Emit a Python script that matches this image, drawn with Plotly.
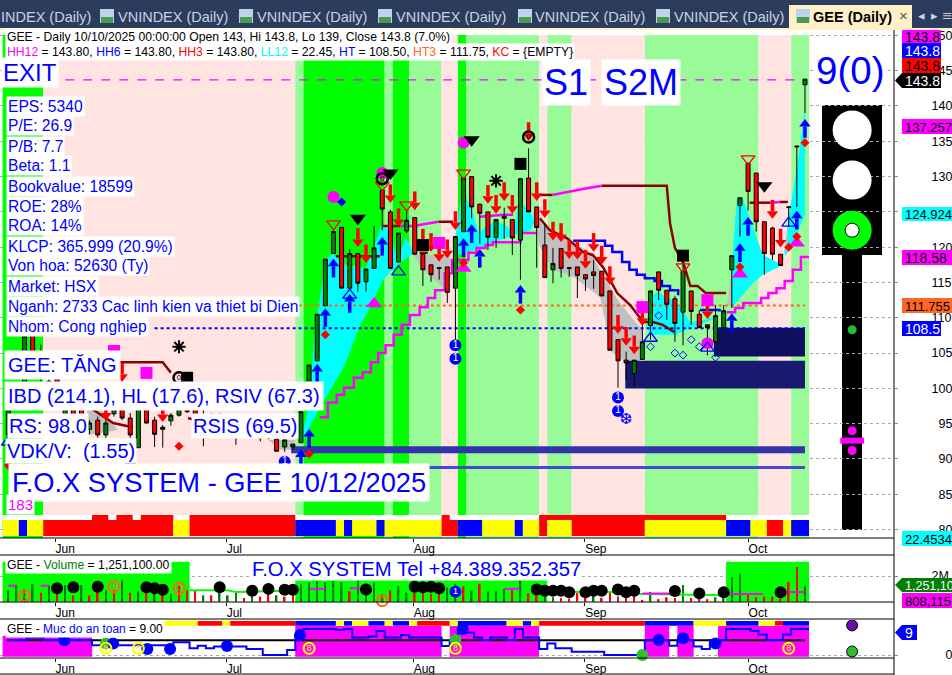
import plotly.graph_objects as go

W, H = 952, 675
FONT = "Liberation Sans"
PINK, LIGHT, LIME = "#FFE4E1", "#98FB98", "#00FF00"
RED, YEL, BLU, MAG, GRN = "#FF0000", "#FFFF00", "#0000FF", "#FF00FF", "#008000"

# ---------------- data ----------------
bar_index = list(range(2, 101))
opens = [93.4,99.5,99,107.6,104,99,102,96,98,97,94.2,95.5,93.4,96.4,99,95.8,91.6,98.4,95.5,94.2,95.4,96.2,99,98,96,94,96,94.5,95,93.5,94.8,93,94.1,92.8,91.7,91.7,92.3,97,103.9,111.7,119.1,122.8,114.2,119.1,115.1,117,128.1,125,117.9,122.3,124.2,119,117.5,117.1,117.2,114.2,122.2,130,126.1,125,121.4,124.4,123.9,121,129.8,125.7,120.3,116.8,119.8,117.1,117.2,116.1,116.5,116.6,113.8,106.9,104,102.1,104.1,108.9,116.5,113.9,112.7,110.8,113.8,110.5,109,106.6,108.6,116.8,125.9,131.9,130.5,123.6,122.7,119,125.6,134.2,143]
highs = [99.5,100,107.6,108,106.2,102,103,100,99,98,95.5,96,95.5,99.5,100,96.5,98.8,99,96,94.8,96.5,98,99.2,98.5,97,96.5,96.5,96,96,95,95.2,94.5,94.5,92.8,92.7,92.1,96.7,103.3,110.5,118.3,122.2,122.8,119.7,119.1,116.9,123,128.1,125.3,122,125.3,124.2,119,117.5,117.2,117.2,121.5,129.8,130,126.1,125,123.9,125.6,123.9,129.7,134,125.7,123.4,119.9,119.8,117.2,117.2,116.1,118.2,116.6,113.8,106.9,105.2,104,109,113.8,116.5,113.9,113.1,117.9,113.8,111.1,109,111.8,111.8,118.8,127,131.9,130.5,123.6,122.9,119,125.7,134.3,143.8]
lows = [93,97,98.5,102,101,98,98,95,95,94.5,93.5,93,93,96,95.5,93,91.6,95,91.7,91.6,94.7,96,96.5,95,91.8,93,94,94,92,93,93.2,92.5,92.8,91.1,91,91.3,92.3,97,103.9,111.7,119.1,114.2,114.2,113.7,113.7,117,122.4,117,117.9,122,119,114.5,115.1,115.4,112.1,106.9,122.2,124.1,120.5,119.6,119.9,121.2,118.9,115.4,125,117.1,115.7,114.9,115.7,115.8,112.8,113.8,114.1,113.1,105.4,100.1,101.2,100.2,104.1,106.9,112.5,109.7,106.6,106.1,109,108.6,104.7,106.6,108.6,111.4,121.5,125.2,122.2,116.1,118.2,117.4,123,125.7,139]
closes = [99,97.5,107.4,102.6,101.5,101,99,98,96,95.5,95.1,93.4,95.1,99,95.8,93.4,98.4,95.1,93.5,94.5,96.2,97.5,96.7,95.5,94.5,96,94.5,95.5,94,94.5,93.4,94,93,91.1,92.7,92.1,96.7,103.3,110.5,118.3,122.2,114.2,119.1,114.9,116.9,119.9,125.4,117,122,123.8,119,116.8,116.1,117,113.6,121.5,129.8,125.7,124.8,121.4,123.9,124.1,121.3,129.7,125,122.8,115.7,117.7,117,117,116,115.5,116,113.1,105.4,103.9,103.6,104,106.6,113.8,113.9,111.9,109.2,116.6,110.9,108.6,108.6,110.3,111,118.8,127,127.9,123.6,119.1,119,117.4,125.7,134.3,143.8]

volumes = [.9,1.3,1.0,1.4,.7,1.3,.9,1.3,.5,1.3,.5,1.5,.9,.9,1.7,.7,.8,.8,.6,.5,.6,1.3,.9,.9,.5,.5,.7,.5,.7,.3,.5,.4,.6,.5,.4,.5,1.4,1.5,1.6,1.5,1.6,1.5,.8,1.7,1.2,1.5,.6,.9,1.2,.7,.7,.8,.6,1.0,1.1,1.4,1.2,.9,1.4,.8,.8,1.0,.9,1.7,.65,.5,.4,.35,.3,.25,.7,.4,.5,.3,.75,.4,.8,.6,.15,.75,.2,.35,.3,1.3,.3,.4,.2,.35,.6,1.9,2.2,.65,.35,.4,.4,.25,1.55,2.7,1.25]
vol_is_up = [1,1,1,1,0,1,0,1,0,1,0,0,1,0,1,0,1,0,1,0,1,0,0,0,1,0,1,1,1,0,1,0,0,1,0,0,1,1,1,1,1,1,0,1,1,1,1,0,1,1,0,0,0,0,1,1,0,1,0,1,1,1,0,1,0,0,1,1,0,0,0,0,1,0,0,0,0,0,0,1,0,0,0,1,0,0,0,1,1,1,1,0,0,0,0,0,0,0,1]

band_edges = [1.3,6.3,37.3,38.3,48.3,49.3,51.3,55.3,57.3,58.3,67.3,68.3,71.3,80.3,94.3,98.3,100.5]
band_colors = [LIME,PINK,LIGHT,LIME,LIGHT,LIME,LIGHT,PINK,LIME,LIGHT,PINK,LIGHT,PINK,LIGHT,PINK,LIGHT]
strip_edges = [1.3,3.3,4.3,6.3,22.3,24.3,37.3,42.3,43.3,44.3,47.3,48.3,55.3,57.3,60.3,64.3,65.3,67.3,68.3,71.3,80.3,90.3,93.3,95.3,97.3,98.3,100.5]
strip_colors = [YEL,BLU,YEL,RED,YEL,RED,BLU,YEL,BLU,YEL,BLU,YEL,RED,BLU,YEL,BLU,YEL,RED,YEL,RED,YEL,BLU,YEL,RED,YEL,BLU]
upper_red_runs = [(12.3,14.3),(15.3,17.3),(18.3,22.3),(24.3,37.3),(55.3,56.3),(67.3,90.3)]
safety_edges = [20.9,25.3,28.3,29.3,37.3,42.3,43.3,44.3,46.3,48.3,49.3,51.3,52.3,56.3,57.3,63.3,65.3,66.3,67.3,80.3,86.3,90.3,94.3,96.3,97.3,100.5]
safety_colors = [YEL,RED,YEL,RED,BLU,YEL,BLU,YEL,BLU,YEL,BLU,YEL,RED,YEL,BLU,YEL,BLU,YEL,RED,BLU,YEL,BLU,YEL,RED,BLU]
vol_band_edges = [1.3,24.3,37.3,68.3,90.3,100.5]
vol_band_tops = [3.1,0,1.7,0,3.1]
safety_magenta = [(1.3,12.3,6.6),(37.3,55.3,10),(56.3,67.3,10),(80.3,83.3,10),(84.3,86.3,10),(89.3,100.5,10)]

cyan_polys = [
 ([37.9,39,39.6,40.6,41,41.9,42.9,43.9,44.9,45.9,46.9,48,49,49.9,50.9,51.9,49.9,48.1,46.2,45.3,43.4,40.3,38.1],
  [92.3,97.6,106.9,114.9,118.2,119.2,117.9,117.2,117.5,116.8,120,123.4,122,118.2,121.4,119.2,117.5,115.4,110.8,109,103.3,97.2,92.4]),
 ([57,57.9,58.9,59.9,60.9,61.9,63.1,64.2,64.8,66.3,66.8,66.2,64.2,61.3,58.8,57.3],
  [121.6,128.1,125.6,122,123.1,123.6,123.1,122.2,126.7,124.8,123.6,122.4,121.7,120.6,119.3,118.9]),
 ([80.4,81.2,82,83,84,85.9,87.7,89.1,89.1,87.1,84,80.9],
  [109,113.2,113.7,112.8,112.5,109.4,109.7,110.3,110,109.1,107.6,107.6]),
 ([90.8,91.1,91.6,92.3,93,93.9,94.8,96.7,97.5,97.9,99,99.9,100,100,98.5,96.8,94.8,93.6,91],
  [111.7,118.8,126.7,127,124.8,122,118.9,117.8,118.6,123.9,130.9,139,139,124.6,120.6,117.2,116.1,114.9,111.5]),
]
gray_polys = [
 ([51.9,56.3,56.7,56,54.9,53],[118.9,118.9,117.5,113.5,114.9,116.8]),
 ([66.5,67,68.6,71.1,73.6,74.8,77,79.1,80.1,79.7,78.5,77.5,76,75.4,74.8,71.5,69,67.4],
  [125.3,124.3,122.7,121,119.2,116.8,112.5,109.4,108.3,104,103.3,104,105.4,109.7,112.9,115.8,116.8,120]),
 ([90.4,91,91],[111.8,116.8,111.7]),
 ([97.3,97.9,97.8],[118.5,123.1,120.3]),
 ([11.7,13.3,15.5,11.7],[97.2,97.2,94.1,93.4]),
 ([34,37.3,37.3,35.4],[92.7,92.7,91.3,91.3]),
]
zones = [
 (36.8,100,90.8,91.8,"#3333AA"),
 (36.8,100,88.6,89,"#4848D0"),
 (77.9,100,100,103.9,"#191970"),
 (88.8,100,104.5,108.6,"#0F0F60"),
]
darkred_x = [42.3,47.7,None,48.1,50.2,None,54.9,56.7,None,52.6,53.6,None,66.8,68.9,None,75,83,83.4,84,85,85.9,86.8,87.8,90.3,None,93.2,95.7,None,96.9,97.9,None,
             67.4,68.6,70.7,72.7,73.9,75.2,76.9,78.5,79.7,80.1,81.3,82.5,83.9,None,12.4,14.9,17.3,None,15.4,21,22,None,24.1,25]
darkred_y = [118.7,118.7,None,123,123,None,123.6,123.6,None,119.2,119.2,None,127.4,127.4,None,128.7,128.7,123.4,119.9,117.9,114.5,114.5,113.5,113.5,None,126.3,126.3,None,126.4,126.4,None,
             124.1,122.4,121.3,119.3,118.9,117.1,113.5,111.8,110,109.4,109.4,109,108,None,97,95.1,94.5,None,103.7,103.7,102.2,None,95.8,95.5]
mag_seg_x = [50.2,51.8,54.9,None,60,62.9,64.1,None,68.9,71,73,75,None,95.7,96.9]
mag_seg_y = [123,123,123.6,None,124.3,124.6,124.6,None,127.4,127.9,128.3,128.7,None,126.3,126.4]
bluestep_x = [71.5,74.4,75.4,76.3,77.5,78.4,79.3,80.3,81.5,82.4,83.4,84.4,None,87.1,89.5]
bluestep_y = [120.9,120.9,120.2,119.3,117.9,116.8,116.1,115.6,115.2,114.5,113.9,113.2,None,111.1,110.9]
ll_x = [40.3,41.3,42.4,43.3,44.5,45.6,46.6,47.5,48.4,49.4,50.4,51.4,52.6,53.6,54.5,55.7,56.6,58.6,59.6,60.7,61.6,65,67,None,
        90.4,91.4,92.4,94.6,95.5,96.5,97.5,98.5,99.5,100.5]
ll_y = [95.9,98,99.1,100.1,101.5,102.3,103.7,105,106.1,107.6,109,110.4,111.5,112.8,113.9,116.3,118.2,119.2,119.9,120.3,120.7,122,122,None,
        110.8,111.4,112.1,112.8,113.5,114.2,115.2,116.8,118.6,118.6]
HH, HT3, HT = 143.7, 111.755, 108.5

up_x = [41,42,44,48,58,59,60,65,40,39,38,100,99,93,92,91]
up_y = [110.1,117.1,112.1,120.2,120,122,118.5,113.4,102.2,93,90.1,136.9,123.9,123,119.3,109.4]
dn_x = [45,46,49,50,52,53,54,55,56,57,61,62,63,64,66,67,68,69,70,71,72,73,74,75,76,77,78,79,80,88,96,97,16,14,21]
dn_y = [121.3,119,127.5,124.1,126.5,121.2,120.6,119.2,119.7,123.7,127.4,126,127.8,126,136.3,127.8,125.4,122.2,122,119.6,119.5,118.2,120.6,118.8,115.9,109,107.3,106.1,110.1,111.1,125.3,121.2,102.2,96.7,96.5]
tri_red_x, tri_red_y = [42,48,51,58,93,85], [123.3,128.8,126,130.5,132.5,117.2]
tri_blk_x, tri_blk_y = [45,49,59,95], [124.1,130.5,135.2,128.7]
tri_blu_x, tri_blu_y = [44,50,98,81,88,2], [113.2,116.5,123.4,107.1,105.7,92.4]
tri_mag_x, tri_mag_y = [47,58,92,99], [112,117,116.2,120.6]
sq_mag_x, sq_mag_y = [55,80,88,19,15], [120.6,111.5,112.5,102.2,105.3]
sq_blk_x, sq_blk_y = [65,85,53,24], [131.8,118.8,120.3,101.5]
circ_mag_x, circ_mag_y = [42,48,58,88], [127.1,130.5,134.8,106.4]
dia_red_x = [65,58,92,98,99,100,41,23,39,2]
dia_red_y = [111.1,117.8,117.2,120,121.5,134.8,107.6,91.8,90.7,89.1]
dia_hollow_x = [84,85,86,87,89,81,82]
dia_hollow_y = [105,104.7,106.9,105.9,104.4,105.9,110.3]
star_x, star_y = [62,23], [129.4,105.9]
ring_x, ring_y = [48,66,23], [129.7,135.6,101.5]
one_x, one_y = [57,57,77,77,36,17], [106.1,104.2,98.7,96.8,89.6,89.1]
flake_x, flake_y = [13,78], [85,95.5]
zero_vol_x, zero_vol_y = [4,15,23,48,66], [.47,1.17,1.04,.08,-.15]
one_vol_x, one_vol_y = [13,17,36,57,77], [-.2,-.08,-.5,.78,-.5]
dot_vol_x = [8,10,13,19,20,21,28,32,34,36,37,46,52,53,54,55,67,68,69,70,71,73,74,75,77,78,79,84,87,90,97]
dot_vol_y = [1.04,1.12,1.17,1.12,1.04,.94,1.12,.86,1,.94,.94,.96,1.17,1.12,1.17,1.04,.96,.86,.86,.86,.73,.73,.86,.86,.96,.73,.86,.84,.65,.73,.73]
ma_lime_x, ma_lime_y = [24.3,29,30,36,37.3,None,68.3,75,80,85,90.3], [.9,.9,.75,.85,.7,None,.75,.8,.6,.55,.5]
ma_mag_x = [2,3,None,6,7,None,39,41,None,44,45.7,None,63,65,None,80,84,None,90.6,94.8,None,98,100]
ma_mag_y = [1.25,1.25,None,1.25,1.25,None,1,1,None,1.05,1.05,None,1,1,None,.65,.65,None,.6,.6,None,.75,.75]

saf_x = [1.8,4.3,6.3,12.3,22.3,24.3,25.3,26.3,27.3,31.3,33.3,36.3,37.3,38.3,42.3,43.3,44.3,46.3,47.3,48.3,50.3,51.3,55.3,56.3,57.3,58.3,59.3,60.3,61.3,63.3,64.3,65.3,67.3,68.3,69.3,71.3,75.3,80.3,83.3,84.3,86.3,87.3,88.3,90.3,93.3,94.3,95.3,97.3,98.3,100.5]
saf_y = [5.2,6,5.2,3.4,4.4,2.3,3.2,2.3,2.9,2.1,0,1.7,6.9,9,8.6,9,6,6.4,8.3,6,6.9,6,3.1,5.2,9,7.8,6,5.2,6,5.2,9,6,2.1,4,2.3,1.1,0,5.2,3.2,5.2,2.9,2.1,5.2,9,8.3,7.1,5.2,7.1,9,9]
SAFE_LEVEL = 5.1
saf_dot_x, saf_dot_y = [8.9,14.9,19.1,21.9,28.9,37.9,57.9,82,85,89], [5.1,4,2.1,2.1,3.1,6.9,9,5.2,5.8,4]
saf_grn_x, saf_grn_y = [14,57,80], [4,5.2,0]
saf_8_x, saf_8_y = [14,18,39,57,98], [2.3,2.3,2.3,2.3,2.3]
zero_x, one_x3 = [4,15,23,48,66], [13,17,36,57,77]
ROW3 = -3.4

month_ticks = [7.75,28.8,51.8,72.9,93]
month_names = ["Jun","Jul","Aug","Sep","Oct"]
price_ticks = [80,85,90,95,100,105,110,115,120,125,130,135,140,145,150]
price_labels = ["\u2007%d" % p if p < 100 else "%d" % p for p in price_ticks]
LIGHT_X = 105.8
lamp_y = [136.6,129.5]
ring_y_lamp = 122.4
small_green_y = [108.3]
small_mag_y = [94,91.2]

# ---------------- helpers ----------------
def px(x): return x / W
def py(y): return 1 - y / H

def runs_to_bars(edges):
    mids = [(a + b) / 2 for a, b in zip(edges, edges[1:])]
    widths = [b - a for a, b in zip(edges, edges[1:])]
    return mids, widths

fig = go.Figure()

def bar(x, w, base, top, color, yaxis="y", xaxis="x"):
    fig.add_trace(go.Bar(x=x, width=w, base=base, y=[t - b for t, b in zip(top, base)],
                         marker=dict(color=color, line=dict(width=0)), xaxis=xaxis, yaxis=yaxis,
                         showlegend=False, hoverinfo="skip"))

def line(x, y, color, width=2.5, dash=None, shape="linear", yaxis="y", xaxis="x"):
    fig.add_trace(go.Scatter(x=x, y=y, mode="lines", xaxis=xaxis, yaxis=yaxis, showlegend=False, hoverinfo="skip",
                             connectgaps=False, line=dict(color=color, width=width, dash=dash, shape=shape)))

def poly(x, y, color):
    fig.add_trace(go.Scatter(x=x + x[:1], y=y + y[:1], mode="lines", fill="toself", fillcolor=color,
                             line=dict(width=0, color=color), showlegend=False, hoverinfo="skip"))

def mark(x, y, symbol, size, color, lw=0, lc=None, yaxis="y4", xaxis="x", text=None, tcolor="white", tsize=10, clip=True):
    fig.add_trace(go.Scatter(x=x, y=y, mode="markers+text" if text else "markers", xaxis=xaxis, yaxis=yaxis,
                             marker=dict(symbol=symbol, size=size, color=color, line=dict(width=lw, color=lc or color)),
                             text=[text] * len(x) if text else None, textposition="middle center",
                             textfont=dict(family=FONT, size=tsize, color=tcolor), cliponaxis=clip,
                             showlegend=False, hoverinfo="skip"))

# main pane: bands, strips
m, w = runs_to_bars(band_edges)
bar(m, w, [78.81] * len(m), [150.05] * len(m), band_colors)
bar([50.9], [99.2], [81.36], [82.07], "white")
m, w = runs_to_bars(strip_edges)
bar(m, w, [79.1] * len(m), [81.36] * len(m), strip_colors)
bar([(a + b) / 2 for a, b in upper_red_runs], [b - a for a, b in upper_red_runs],
    [81.36] * len(upper_red_runs), [82.07] * len(upper_red_runs), RED)

for x, y in cyan_polys:
    poly(x, y, "#00FFFF")
for x, y in gray_polys:
    poly(x, y, "#C0C0C0")
for x0, x1, lo, hi, c in zones:
    poly([x0, x1, x1, x0], [lo, lo, hi, hi], c)

line([6.8, 100], [HH, HH], MAG, 1.2, "dash")
line([37, 100], [HT3, HT3], "#FF6622", 2, "dot")
line([20, 100], [HT, HT], BLU, 2, "dot")
line(ll_x, ll_y, MAG, 2.5, shape="hv")
line(bluestep_x, bluestep_y, BLU, 2.5, shape="hv")
line(darkred_x, darkred_y, "#8B0000", 2.5)
line(mag_seg_x, mag_seg_y, MAG, 2.5)

# candles on the overlay axis
fig.add_trace(go.Candlestick(x=bar_index, open=opens, high=highs, low=lows, close=closes, xaxis="x", yaxis="y4",
                             increasing=dict(fillcolor=GRN, line=dict(color="black", width=1)),
                             decreasing=dict(fillcolor=RED, line=dict(color="black", width=1)),
                             whiskerwidth=0, showlegend=False, hoverinfo="skip"))

# arrows
mark(up_x, [v + .55 for v in up_y], "triangle-up", 10, BLU)
mark(up_x, [v - .6 for v in up_y], "line-ns", 8, BLU, 3.5, BLU)
mark(dn_x, [v - .55 for v in dn_y], "triangle-down", 10, RED)
mark(dn_x, [v + .6 for v in dn_y], "line-ns", 8, RED, 3.5, RED)

mark(tri_mag_x, tri_mag_y, "triangle-up", 14, MAG)
mark(sq_mag_x, sq_mag_y, "square", 12, MAG)
mark(sq_blk_x, sq_blk_y, "square", 12, "black")
mark(circ_mag_x, circ_mag_y, "circle", 12, MAG)
mark(tri_red_x, tri_red_y, "triangle-down-open", 12, RED, 1.3, RED)
mark(tri_blk_x, tri_blk_y, "triangle-down", 14, "black")
mark(tri_blu_x, tri_blu_y, "triangle-up-open", 12, BLU, 1.3, BLU)
mark([43], [126.4], "diamond", 7, BLU)
mark(dia_red_x, dia_red_y, "diamond", 7, RED)
mark(dia_hollow_x, dia_hollow_y, "diamond-open", 6, BLU, 1, BLU)
mark(star_x, star_y, "asterisk-open", 11, "black", 2, "black")
mark(ring_x, ring_y, "circle-open", 11, "black", 2.5, "black", text="0", tcolor="black", tsize=8)
mark(one_x, one_y, "circle", 12, BLU, text="1")
fig.add_trace(go.Scatter(x=flake_x, y=flake_y, mode="text", text=["❆", "❆"], yaxis="y4", cliponaxis=False,
                         textfont=dict(family="DejaVu Sans", size=15, color=BLU), showlegend=False, hoverinfo="skip"))

# traffic light dots
mark([LIGHT_X] * 2, lamp_y, "circle", 39, "white")
mark([LIGHT_X], [ring_y_lamp], "circle", 39, LIME)
mark([LIGHT_X], [ring_y_lamp], "circle", 14, "white", 1, "black")
mark([LIGHT_X], small_green_y, "circle", 9, "#22BB33")
mark([LIGHT_X] * 2, small_mag_y, "circle", 9, MAG)
mark([LIGHT_X], [92.6], "line-ew", 17, MAG, 6, MAG)

# volume pane
m, w = runs_to_bars(vol_band_edges)
bar(m, w, [0] * len(m), vol_band_tops, LIME, yaxis="y2", xaxis="x2")
bar(bar_index, [.2] * len(bar_index), [0] * len(bar_index), volumes,
    [GRN if u else RED for u in vol_is_up], yaxis="y2", xaxis="x2")
line(ma_lime_x, ma_lime_y, LIME, 2, yaxis="y2", xaxis="x2")
line(ma_mag_x, ma_mag_y, MAG, 2, yaxis="y2", xaxis="x2")
mark(dot_vol_x, dot_vol_y, "circle", 12, "black", yaxis="y2", xaxis="x2")
mark(zero_vol_x, zero_vol_y, "circle-open", 11, "#FF6622", 2, "#FF6622", yaxis="y2", xaxis="x2", text="0", tcolor="#FF6622", tsize=9, clip=False)
mark(one_vol_x, one_vol_y, "circle", 12, BLU, yaxis="y2", xaxis="x2", text="1", tsize=9, clip=False)

# safety pane
bar([(a + b) / 2 for a, b, _ in safety_magenta], [b - a for a, b, _ in safety_magenta],
    [-.6] * len(safety_magenta), [t for _, _, t in safety_magenta], MAG, yaxis="y3", xaxis="x3")
m, w = runs_to_bars(safety_edges)
bar(m, w, [10.1] * len(m), [11.7] * len(m), safety_colors, yaxis="y3", xaxis="x3")
line([1.8, 100], [SAFE_LEVEL, SAFE_LEVEL], "black", 2, yaxis="y3", xaxis="x3")
line(saf_x, saf_y, BLU, 2, shape="hv", yaxis="y3", xaxis="x3")
mark(saf_grn_x, saf_grn_y, "circle", 12, "#33BB33", yaxis="y3", xaxis="x3", clip=False)
mark(saf_dot_x, saf_dot_y, "circle", 12, BLU, yaxis="y3", xaxis="x3")
mark(saf_8_x, saf_8_y, "circle-open", 11, YEL, 2, YEL, yaxis="y3", xaxis="x3", text="8", tcolor=YEL, tsize=9)
mark(zero_x, [ROW3] * 5, "circle-open", 11, "#FF6622", 2, "#FF6622", yaxis="y3", xaxis="x3", text="0", tcolor="#FF6622", tsize=9, clip=False)
mark(one_x3, [ROW3] * 5, "circle", 12, BLU, yaxis="y3", xaxis="x3", text="1", tsize=9, clip=False)
mark([LIGHT_X], [10.2], "circle", 11, "#6A0DAD", 1, "black", yaxis="y3", xaxis="x3")
mark([LIGHT_X], [1.2], "circle", 11, "#33BB33", 1, "black", yaxis="y3", xaxis="x3")

# ---------------- chrome: shapes and texts ----------------
shapes, annos = [], []
def rect(x0, y0, x1, y1, color, layer="above"):
    shapes.append(dict(type="rect", xref="paper", yref="paper", x0=px(x0), x1=px(x1), y0=py(y0), y1=py(y1),
                       fillcolor=color, line=dict(width=0), layer=layer))
def hline(y, x0=0, x1=894):
    shapes.append(dict(type="line", xref="paper", yref="paper", x0=px(x0), x1=px(x1), y0=py(y), y1=py(y),
                       line=dict(color="black", width=1), layer="above"))
def txt(x, y, s, size=12, color="black", bg=None, anchor="left", family=FONT, pad=1):
    annos.append(dict(xref="paper", yref="paper", x=px(x), y=py(y), text=s, showarrow=False, xanchor=anchor, yanchor="middle",
                      font=dict(family=family, size=size, color=color), bgcolor=bg, borderpad=pad, align="left"))

# tabs
rect(0, 0, 952, 28, "#2C3C5C")
rect(0, 28, 952, 30, "#FFF0C8")
rect(789, 5, 912, 28, "#FFF0C8")
for ix in [100, 239, 378, 518, 656, 796]:
    rect(ix, 9, ix + 14, 23, "#BBD4EA")
    rect(ix + 1, 17, ix + 13, 23, "#4C9A52")
txt(0, 17, "INDEX (Daily)", 14.5, "#C9D2E4", pad=0)
for ix in [117, 256, 395, 534, 673]:
    txt(ix, 17, "VNINDEX (Daily)", 14.5, "#C9D2E4", pad=0)
txt(812, 17, "<b>GEE (Daily)</b>", 14.5, "black", pad=0)
txt(898, 16, "×", 15, "#555555", pad=0)
txt(917, 15, "◂", 13, "#C9D2E4", family="DejaVu Sans", pad=0)
txt(930, 15, "▸", 13, "#C9D2E4", family="DejaVu Sans", pad=0)
txt(941, 15, "≡", 13, "#C9D2E4", family="DejaVu Sans", pad=0)

# frame
for y in [538, 555, 602, 619, 658, 674]:
    hline(y)
shapes.append(dict(type="line", xref="paper", yref="paper", x0=px(894), x1=px(894), y0=py(30), y1=py(675),
                   line=dict(color="black", width=1), layer="above"))

# traffic light body (kept under the dots)
rect(822, 105, 882, 255, "black", "below")
rect(842, 255, 862, 530, "black", "below")

# price tags
def tag(y0, y1, s, bg, fg="black", x0=902, x1=941, pointer=False, size=14):
    rect(x0, y0, x1, y1, bg)
    if pointer:
        shapes.append(dict(type="path", xref="paper", yref="paper", layer="above", fillcolor=bg, line=dict(width=0),
                           path=f"M{px(x0)},{py(y0)} L{px(895)},{py((y0 + y1) / 2)} L{px(x0)},{py(y1)} Z"))
    txt(x0 + 2, (y0 + y1) / 2 + .5, s, size, fg, pad=0)

tag(30, 43, "143.8", MAG)
tag(43, 58, "143.8", BLU, "white")
tag(58, 73, "143.8", RED)
tag(73, 88, "143.8", "black", "white", pointer=True)
tag(119, 134, "137.257", MAG, x1=952, size=13)
tag(207, 221, "124.924", "#00FFFF", x1=952, size=13)
tag(250, 265, "118.58", MAG, x1=952)
tag(298, 313, "111.755", "#FF6622", x1=952, size=13)
tag(321, 336, "108.5", BLU, "white")
tag(531, 546, "22.4534", "#00FFFF", x1=952, size=13)
tag(578, 592, "1,251,10", GRN, "white", x1=952, pointer=True, size=12.5)
tag(593, 608, "808,115", MAG, x1=952, size=13)
tag(625, 640, "9", BLU, "white", x0=902, x1=917, pointer=True)

# headings
txt(4.5, 37, "GEE - Daily 10/10/2025 00:00:00 Open 143, Hi 143.8, Lo 139, Close 143.8 (7.0%)", 12.2, bg="white", pad=1)
txt(4.5, 52, "<span style='color:#FF00FF'>HH12</span> = 143.80, <span style='color:#0000FF'>HH6</span> = 143.80, "
           "<span style='color:#FF0000'>HH3</span> = 143.80, <span style='color:#00FFFF'>LL12</span> = 22.45, "
           "<span style='color:#0000FF'>HT</span> = 108.50, <span style='color:#FF6622'>HT3</span> = 111.75, "
           "<span style='color:#FF0000'>KC</span> = {EMPTY}", 12.2, bg="white", pad=1)
txt(1, 72, "EXIT", 24, BLU, "white", pad=1)
rows = ["EPS: 5340", "P/E: 26.9", "P/B: 7.7", "Beta: 1.1", "Bookvalue: 18599", "ROE: 28%", "ROA: 14%",
        "KLCP: 365.999 (20.9%)", "Von hoa: 52630 (Ty)", "Market: HSX", "Nganh: 2733 Cac linh kien va thiet bi Dien", "Nhom: Cong nghiep"]
for k, s in enumerate(rows):
    txt(6, 106 + 20 * k, s, 15.6, BLU, "white", pad=1)
txt(4, 365, "GEE: TĂNG", 20, BLU, "white", pad=3)
txt(4, 396, "IBD (214.1), HL (17.6), RSIV (67.3)", 20, BLU, "white", pad=3)
txt(7, 426, "RS: 98.0", 20, BLU, "white", pad=1)
txt(191, 426, "RSIS (69.5)", 20, BLU, "white", pad=1)
txt(5, 451, "VDK/V:  (1.55)", 20, BLU, "white", pad=1)
txt(8, 482, "F.O.X SYSTEM - GEE 10/12/2025", 27.3, BLU, "white", pad=3)
txt(6, 504, "183", 15, MAG, "white", pad=1)
txt(541, 82, "S1", 36, BLU, "white", pad=2)
txt(601, 82, "S2M", 36, BLU, "white", pad=2)
txt(815, 71, "9(0)", 38.5, BLU, "white", pad=0)
txt(4.5, 565, "GEE - <span style='color:#008000'>Volume</span> = 1,251,100.00", 12.2, bg="white", pad=1)
txt(251, 569, "F.O.X SYSTEM Tel +84.389.352.357", 20.3, BLU, "white", pad=0)
txt(4.5, 629, "GEE - <span style='color:#0000FF'>Muc do an toan</span> = 9.00", 12, bg="white", pad=1)

X_RANGE = [0.98, 110.95]
DOM_X = [0, 894 / W]
xa = dict(range=X_RANGE, domain=DOM_X, showgrid=False, zeroline=False, showline=False, tickmode="array",
          tickvals=month_ticks, ticktext=month_names, ticks="outside", ticklen=3, tickcolor="black",
          ticklabelposition="outside right", tickfont=dict(family=FONT, size=12, color="black"), rangeslider=dict(visible=False))
ya = dict(side="right", showline=False, zeroline=False, showgrid=True, griddash="dot", gridcolor="#AAAAAA", gridwidth=1,
          ticks="outside", ticklen=3, tickcolor="#888888", ticklabelstandoff=31, tickfont=dict(family=FONT, size=12.5, color="black"))

fig.update_layout(
    width=W, height=H, margin=dict(l=0, r=0, t=0, b=0, pad=0, autoexpand=False), autosize=False, paper_bgcolor="white", plot_bgcolor="white",
    barmode="overlay", showlegend=False, hovermode=False, font=dict(family=FONT),
    xaxis=dict(xa, anchor="y", automargin=False),
    xaxis2=dict(xa, anchor="y2", automargin=False),
    xaxis3=dict(xa, anchor="y3", automargin=False),
    yaxis=dict(ya, anchor="x", domain=[py(538), py(30)], range=[78.81, 150.76], tickmode="array", tickvals=price_ticks, ticktext=price_labels, automargin=False),
    yaxis4=dict(anchor="x", overlaying="y", range=[78.81, 150.76], visible=False),
    yaxis2=dict(ya, anchor="x2", domain=[py(602), py(556)], range=[-.02, 3.556], tickmode="array", tickvals=[2], ticktext=["2M"], automargin=False),
    yaxis3=dict(ya, anchor="x3", domain=[py(658), py(620)], range=[-1.03, 12.07], tickmode="array", tickvals=[0], ticktext=["\u2007\u20070"], automargin=False),
    shapes=shapes, annotations=annos,
)
fig.write_html("out.html", config=dict(displayModeBar=False), post_script="document.body.style.margin='0';")
